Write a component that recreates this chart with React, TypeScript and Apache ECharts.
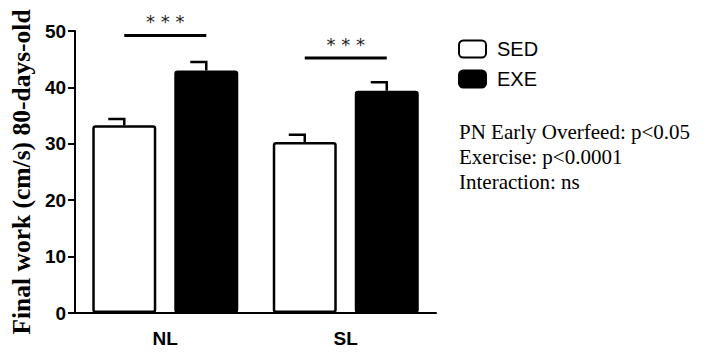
import React, { useEffect, useRef } from "react";
import * as echarts from "echarts";

const categories = ["NL", "SL"];
const seriesNames = ["SED", "EXE"];
const sedMeans = [33.3, 30.3];
const sedErrTop = [34.4, 31.6];
const exeMeans = [43.0, 39.4];
const exeErrTop = [44.5, 40.9];
const sigLevels = [49.2, 45.2];
const sigLabels = ["* * *", "* * *"];
const yTicks = { min: 0, max: 50, interval: 10 };
const annotationLines = [
  "PN Early Overfeed: p<0.05",
  "Exercise: p<0.0001",
  "Interaction: ns",
];

const BAR_W = 64;
const BAR_GAP_PX = 18;
const OFF = (BAR_W + BAR_GAP_PX) / 2;

export default function App() {
  const ref = useRef<HTMLDivElement>(null);
  useEffect(() => {
    document.body.style.margin = "0";
    const chart = echarts.init(ref.current!, null, { renderer: "svg" });
    const errData = [
      ...sedMeans.map((m, i) => [i, m, sedErrTop[i], -1]),
      ...exeMeans.map((m, i) => [i, m, exeErrTop[i], 1]),
    ];
    const sigData = sigLevels.map((v, i) => [i, v]);
    chart.setOption({
      animation: false,
      backgroundColor: "#fff",
      grid: { left: 72, top: 31, width: 364, height: 282 },
      legend: {
        orient: "vertical",
        left: 458,
        top: 39,
        padding: 0,
        itemWidth: 27,
        itemHeight: 17,
        itemGap: 10,
        icon: "roundRect",
        data: seriesNames,
        textStyle: {
          fontFamily: "Liberation Sans, Arial, sans-serif",
          fontSize: 20,
          color: "#000",
          padding: [0, 0, 0, 6],
        },
      },
      xAxis: {
        type: "category",
        data: categories,
        axisLine: { lineStyle: { color: "#000", width: 2 } },
        axisTick: { alignWithLabel: true, length: 8, lineStyle: { color: "#000", width: 2 } },
        axisLabel: {
          margin: 16,
          fontFamily: "Liberation Sans, Arial, sans-serif",
          fontWeight: "bold",
          fontSize: 19,
          color: "#000",
        },
      },
      yAxis: {
        type: "value",
        min: yTicks.min,
        max: yTicks.max,
        interval: yTicks.interval,
        splitLine: { show: false },
        axisLine: { show: true, lineStyle: { color: "#000", width: 2 } },
        axisTick: { show: true, length: 7, lineStyle: { color: "#000", width: 2 } },
        axisLabel: {
          margin: 9,
          fontFamily: "Liberation Sans, Arial, sans-serif",
          fontWeight: "bold",
          fontSize: 19,
          color: "#000",
        },
        name: "Final work (cm/s) 80-days-old",
        nameLocation: "middle",
        nameGap: 36,
        nameTextStyle: {
          fontFamily: "Liberation Serif, Times New Roman, serif",
          fontWeight: "bold",
          fontSize: 25.5,
          color: "#000",
        },
      },
      graphic: [
        {
          type: "text",
          left: 459,
          top: 119,
          style: {
            text: annotationLines.join("\n"),
            font: "21px 'Liberation Serif', 'Times New Roman', serif",
            lineHeight: 25,
            fill: "#000",
          },
        },
      ],
      series: [
        {
          name: "SED",
          type: "bar",
          data: sedMeans,
          barWidth: BAR_W,
          barGap: `${(BAR_GAP_PX / BAR_W) * 100}%`,
          itemStyle: { color: "#fff", borderColor: "#000", borderWidth: 2.5, borderRadius: 2 },
        },
        {
          name: "EXE",
          type: "bar",
          data: exeMeans,
          barWidth: BAR_W,
          itemStyle: { color: "#000", borderColor: "#000", borderWidth: 2.5, borderRadius: 2 },
        },
        {
          type: "custom",
          data: errData,
          z: 5,
          renderItem: (params: any, api: any) => {
            const cat = api.value(0);
            const side = api.value(3);
            const top = api.coord([cat, api.value(1)]);
            const err = api.coord([cat, api.value(2)]);
            const x = top[0] + side * OFF;
            return {
              type: "polyline",
              shape: {
                points: [
                  [x - 16, err[1]],
                  [x, err[1]],
                  [x, top[1]],
                ],
              },
              style: { stroke: "#000", lineWidth: 2.5, fill: "none" },
            };
          },
        },
        {
          type: "custom",
          data: sigData,
          z: 5,
          renderItem: (params: any, api: any) => {
            const cat = api.value(0);
            const p = api.coord([cat, api.value(1)]);
            return {
              type: "group",
              children: [
                {
                  type: "line",
                  shape: { x1: p[0] - OFF, y1: p[1], x2: p[0] + OFF, y2: p[1] },
                  style: { stroke: "#000", lineWidth: 3 },
                },
                {
                  type: "text",
                  x: p[0],
                  y: p[1] - 5,
                  style: {
                    text: sigLabels[params.dataIndex],
                    font: "18px 'DejaVu Sans', sans-serif",
                    fill: "#222",
                    align: "center",
                    verticalAlign: "bottom",
                  },
                },
              ],
            };
          },
        },
      ],
    });
    return () => chart.dispose();
  }, []);
  return <div ref={ref} style={{ width: 706, height: 358 }} />;
}
